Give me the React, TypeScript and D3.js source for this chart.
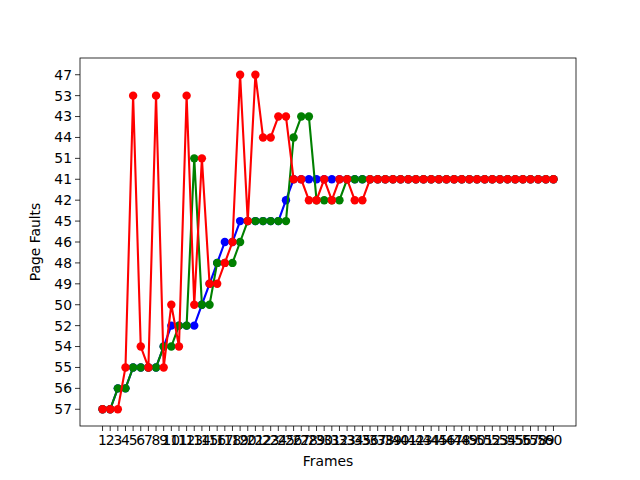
import { useEffect, useRef } from 'react';
import * as d3 from 'd3';

// y categories in order of first appearance (bottom to top)
const yCategories = ['57', '56', '55', '54', '52', '50', '49', '48', '46', '45', '42', '41', '51', '44', '43', '53', '47'];
const frames = d3.range(1, 61).map(String);

const tail = (n: number) => Array(n).fill('41');

const blueValues = ['57', '57', '56', '56', '55', '55', '55', '55', '54', '52', '52', '52', '52', '50', '49', '48', '46', '46', '45', '45',
    '45', '45', '45', '45', '42', '41', '41', '41', '41', '41', '41', '41', '41', '41', '41', '41', ...tail(24)];
const greenValues = ['57', '57', '56', '56', '55', '55', '55', '55', '54', '54', '52', '52', '51', '50', '50', '48', '48', '48', '46', '45',
    '45', '45', '45', '45', '45', '44', '43', '43', '42', '42', '42', '42', '41', '41', '41', '41', ...tail(24)];
const redValues = ['57', '57', '57', '55', '53', '54', '55', '53', '55', '50', '54', '53', '50', '51', '49', '49', '48', '46', '47', '45',
    '47', '44', '44', '43', '43', '41', '41', '42', '42', '41', '42', '41', '41', '42', '42', '41', ...tail(24)];

const series = [
    { color: 'blue', values: blueValues },
    { color: 'green', values: greenValues },
    { color: 'red', values: redValues },
];

export default function App() {
    const svgRef = useRef<SVGSVGElement>(null);

    useEffect(() => {
        if (!svgRef.current) return;
        const svg = d3.select(svgRef.current);
        svg.selectAll('*').remove();

        const margin = { top: 58, right: 64, bottom: 54, left: 80 };
        const innerWidth = 640 - margin.left - margin.right;
        const innerHeight = 480 - margin.top - margin.bottom;

        const xPad = (frames.length - 1) * 0.05;
        const xLin = d3.scaleLinear().domain([-xPad, frames.length - 1 + xPad]).range([0, innerWidth]);
        const x = (f: string) => xLin(frames.indexOf(f));
        const yPad = (yCategories.length - 1) * 0.05;
        const yLin = d3.scaleLinear().domain([-yPad, yCategories.length - 1 + yPad]).range([innerHeight, 0]);
        const y = (c: string) => yLin(yCategories.indexOf(c));

        const g = svg.append('g').attr('transform', `translate(${margin.left},${margin.top})`);
        const font = 'DejaVu Sans, sans-serif';

        // x ticks
        const xt = g.append('g').attr('transform', `translate(0,${innerHeight})`);
        frames.forEach(f => {
            xt.append('line').attr('x1', x(f)).attr('x2', x(f)).attr('y1', 0).attr('y2', 5).attr('stroke', 'black').attr('stroke-width', 0.8);
            xt.append('text').attr('x', x(f)).attr('y', 19).attr('text-anchor', 'middle')
                .attr('font-family', font).attr('font-size', 13.9).text(f);
        });
        g.append('text').attr('x', innerWidth / 2).attr('y', innerHeight + 40).attr('text-anchor', 'middle')
            .attr('font-family', font).attr('font-size', 13.9).text('Frames');

        // y ticks
        yCategories.forEach(c => {
            g.append('line').attr('x1', -5).attr('x2', 0).attr('y1', y(c)).attr('y2', y(c)).attr('stroke', 'black').attr('stroke-width', 0.8);
            g.append('text').attr('x', -8).attr('y', y(c)).attr('dy', '0.35em').attr('text-anchor', 'end')
                .attr('font-family', font).attr('font-size', 13.9).text(c);
        });
        g.append('text').attr('transform', `translate(-40,${innerHeight / 2}) rotate(-90)`).attr('text-anchor', 'middle')
            .attr('font-family', font).attr('font-size', 13.9).text('Page Faults');

        const line = d3.line<string>().x((_, i) => x(frames[i])).y(d => y(d));
        series.forEach(s => {
            g.append('path').attr('d', line(s.values)).attr('fill', 'none').attr('stroke', s.color).attr('stroke-width', 2.1);
            g.selectAll(null).data(s.values).enter().append('circle')
                .attr('cx', (_, i) => x(frames[i])).attr('cy', d => y(d)).attr('r', 4.2).attr('fill', s.color);
        });

        g.append('rect').attr('width', innerWidth).attr('height', innerHeight).attr('fill', 'none')
            .attr('stroke', 'black').attr('stroke-width', 0.8);
    }, []);

    return <svg ref={svgRef} width={640} height={480} style={{ position: 'fixed', left: 0, top: 0, background: 'white' }} />;
}
